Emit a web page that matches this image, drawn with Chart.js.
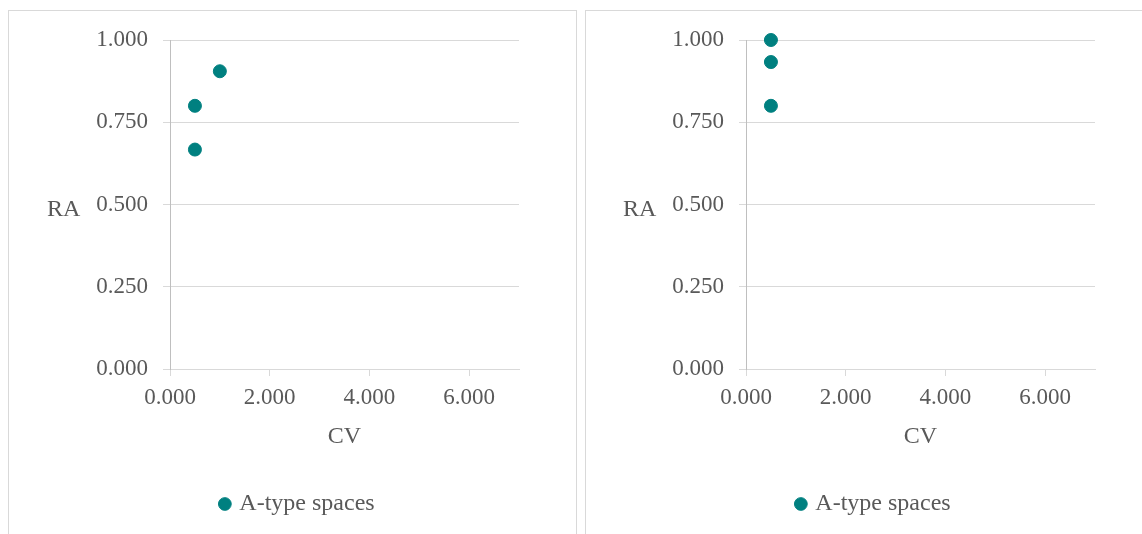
<!DOCTYPE html>
<html lang="en">
  <head>
    <meta charset="UTF-8" />
    <title>RA vs CV - A-type spaces</title>
    <script src="https://cdn.jsdelivr.net/npm/chart.js"></script>
    <style>
      body { margin: 0; background: #fff; width: 1142px; height: 534px; overflow: hidden; position: relative; }
      .panel { position: absolute; border: 1px solid #d9d9d9; box-sizing: border-box; }
      .wrap { position: absolute; width: 568px; height: 524px; }
    </style>
  </head>

  <body>
    <div class="panel" style="left: 8px; top: 10px; width: 569px; height: 600px"></div>
    <div class="panel" style="left: 585px; top: 10px; width: 600px; height: 600px"></div>
    <div class="wrap" style="left: 8px; top: 10px"><canvas id="chart-left"></canvas></div>
    <div class="wrap" style="left: 584px; top: 10px"><canvas id="chart-right"></canvas></div>

    <script>
      const seriesLabel = "A-type spaces";
      const xTicks = [0, 2, 4, 6];
      const yTicks = [0, 0.25, 0.5, 0.75, 1];

      // left chart
      const leftCV = [0.5, 0.5, 1.0];
      const leftRA = [0.8, 0.667, 0.905];

      // right chart
      const rightCV = [0.5, 0.5, 0.5];
      const rightRA = [1.0, 0.933, 0.8];

      const textColor = "#595959";
      const family = "'Liberation Serif', 'Times New Roman', serif";
      const font = { family: family, size: 23 };

      // "RA" sits horizontally left of the y axis
      const yTitle = {
        id: "yTitle",
        afterDraw(chart) {
          const ctx = chart.ctx;
          const area = chart.chartArea;
          ctx.save();
          ctx.font = "24px " + family;
          ctx.fillStyle = textColor;
          ctx.textAlign = "left";
          ctx.textBaseline = "middle";
          ctx.fillText("RA", 39, (area.top + area.bottom) / 2 + 5);
          ctx.restore();
        },
      };

      function makeChart(id, xs, ys) {
        const points = xs.map((x, i) => ({ x: x, y: ys[i] }));
        return new Chart(document.getElementById(id), {
          type: "scatter",
          data: {
            datasets: [
              {
                label: seriesLabel,
                data: points,
                backgroundColor: "#008080",
                borderColor: "#008080",
                pointRadius: 6.5,
                pointHoverRadius: 6.5,
                clip: false,
              },
            ],
          },
          options: {
            responsive: true,
            maintainAspectRatio: false,
            animation: false,
            layout: { padding: { top: 30, right: 0, bottom: 8, left: 13 } },
            plugins: {
              tooltip: { enabled: false },
              legend: {
                position: "bottom",
                labels: {
                  usePointStyle: true,
                  pointStyle: "circle",
                  boxHeight: 9,
                  boxWidth: 5,
                  padding: 41,
                  color: textColor,
                  font: { family: family, size: 24 },
                },
              },
            },
            scales: {
              x: {
                type: "linear",
                min: 0,
                max: 7,
                afterBuildTicks: (s) => { s.ticks = xTicks.map((v) => ({ value: v })); },
                afterFit: (s) => { s.height = 82; },
                grid: { drawOnChartArea: false, drawTicks: true, tickLength: 7, color: "#d9d9d9" },
                border: { color: "#d9d9d9" },
                ticks: {
                  padding: 8,
                  color: textColor,
                  font: font,
                  maxRotation: 0,
                  callback: (v) => Number(v).toFixed(3),
                },
                title: { display: true, text: "CV", color: textColor, font: { family: family, size: 24 }, padding: 0 },
              },
              y: {
                type: "linear",
                min: 0,
                max: 1,
                afterBuildTicks: (s) => { s.ticks = yTicks.map((v) => ({ value: v })); },
                afterFit: (s) => { s.width = 149; },
                grid: { color: "#d9d9d9", tickLength: 7 },
                border: { color: "#bfbfbf" },
                ticks: {
                  padding: 15,
                  color: textColor,
                  font: font,
                  callback: (v) => Number(v).toFixed(3),
                },
              },
              // empty axis that only reserves the space right of the plot
              yRight: {
                position: "right",
                display: true,
                grid: { display: false },
                border: { display: false },
                ticks: { display: false },
                afterFit: (s) => { s.width = 57; },
              },
            },
          },
          plugins: [yTitle],
        });
      }

      makeChart("chart-left", leftCV, leftRA);
      makeChart("chart-right", rightCV, rightRA);
    </script>
  </body>
</html>
